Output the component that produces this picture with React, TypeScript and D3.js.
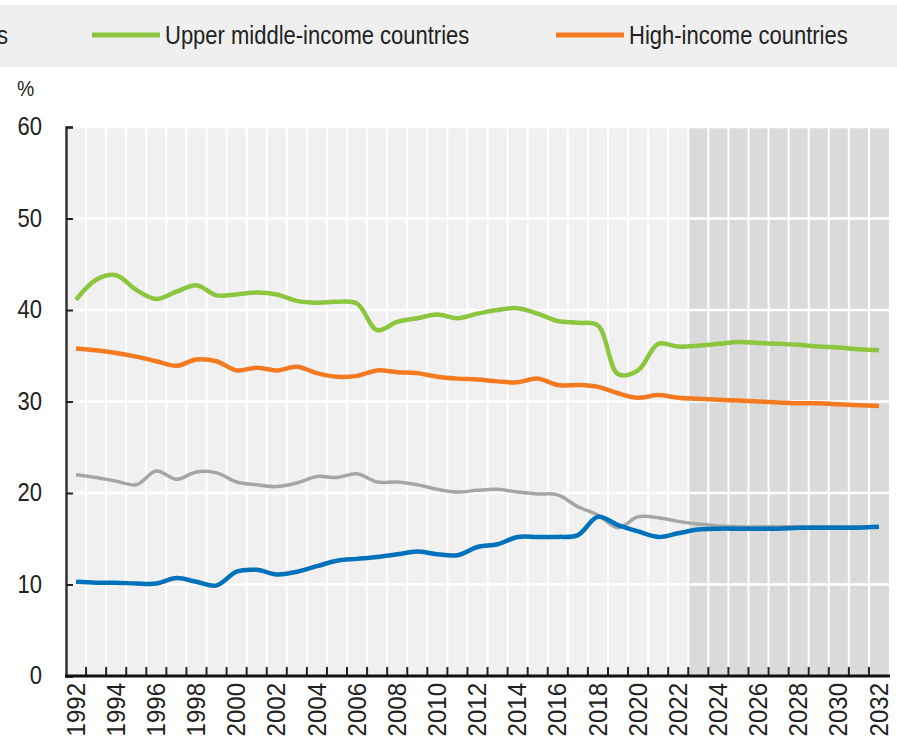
import React, { useEffect, useRef } from 'react';
import * as d3 from 'd3';

// years shown on the x axis (1992-2032), projection starts 2023
const years = d3.range(1992, 2033);
const projectionStart = 2023;
const yTicks = [0, 10, 20, 30, 40, 50, 60];

const upperMiddle = [
  41.1, 43.3, 43.8, 42.2, 41.2, 42.0, 42.7, 41.6, 41.7, 41.9,
  41.7, 41.0, 40.8, 40.9, 40.7, 37.8, 38.7, 39.1, 39.5, 39.1,
  39.6, 40.0, 40.2, 39.6, 38.8, 38.6, 38.3, 33.0, 33.4, 36.3,
  36.0, 36.1, 36.3, 36.5, 36.4, 36.3, 36.2, 36.0, 35.9, 35.7, 35.6,
];
const highIncome = [
  35.8, 35.6, 35.3, 34.9, 34.4, 33.9, 34.6, 34.4, 33.4, 33.7,
  33.4, 33.8, 33.1, 32.7, 32.8, 33.4, 33.2, 33.1, 32.7, 32.5,
  32.4, 32.2, 32.1, 32.5, 31.8, 31.8, 31.6, 30.9, 30.4, 30.7,
  30.4, 30.3, 30.2, 30.1, 30.0, 29.9, 29.8, 29.8, 29.7, 29.6, 29.5,
];
const lowerMiddle = [
  22.0, 21.7, 21.3, 20.9, 22.4, 21.5, 22.3, 22.2, 21.2, 20.9,
  20.7, 21.1, 21.8, 21.7, 22.1, 21.2, 21.2, 20.9, 20.4, 20.1,
  20.3, 20.4, 20.1, 19.9, 19.8, 18.5, 17.6, 16.2, 17.4, 17.3,
  16.9, 16.6, 16.4, 16.3, 16.3, 16.3, 16.3, 16.3, 16.3, 16.3, 16.3,
];
const lowIncome = [
  10.3, 10.2, 10.2, 10.1, 10.1, 10.7, 10.3, 9.9, 11.4, 11.6,
  11.1, 11.4, 12.0, 12.6, 12.8, 13.0, 13.3, 13.6, 13.3, 13.2,
  14.1, 14.4, 15.2, 15.2, 15.2, 15.4, 17.4, 16.5, 15.8, 15.2,
  15.6, 16.0, 16.1, 16.1, 16.1, 16.1, 16.2, 16.2, 16.2, 16.2, 16.3,
];

const series = [
  { name: 'Lower middle-income countries', values: lowerMiddle, color: '#a5a5a5', width: 3.5 },
  { name: 'Low-income countries', values: lowIncome, color: '#0072bc', width: 4.5 },
  { name: 'High-income countries', values: highIncome, color: '#f47a20', width: 4.5 },
  { name: 'Upper middle-income countries', values: upperMiddle, color: '#8cc63f', width: 4.5 },
];

const FONT = "'Liberation Sans', Arial, sans-serif";
const NARROW = 0.88; // original uses a narrow face, squeeze horizontally

const App = () => {
  const svgRef = useRef<SVGSVGElement>(null);

  useEffect(() => {
    const width = 897;
    const height = 737;
    const margin = { top: 127, right: 8, bottom: 61, left: 66 };

    const svg = d3.select(svgRef.current)
      .attr('width', width)
      .attr('height', height)
      .style('font-family', FONT);
    svg.selectAll('*').remove();

    const x = d3.scaleBand<number>()
      .domain(years)
      .range([margin.left, width - margin.right]);

    const y = d3.scaleLinear()
      .domain([0, 60])
      .range([height - margin.bottom, margin.top]);

    const cx = (yr: number) => (x(yr) as number) + x.bandwidth() / 2;

    // legend band
    svg.append('rect')
      .attr('x', 0).attr('y', 5)
      .attr('width', width).attr('height', 62)
      .attr('fill', '#efefef');

    const legendItems = [
      { name: 'Lower middle-income countries', color: '#a5a5a5', x0: -300, textEnd: 8 },
      { name: 'Upper middle-income countries', color: '#8cc63f', x0: 92, textEnd: null },
      { name: 'High-income countries', color: '#f47a20', x0: 556, textEnd: null },
    ];
    legendItems.forEach(item => {
      if (item.textEnd !== null) {
        svg.append('text')
          .attr('transform', `translate(${item.textEnd},36) scale(${NARROW},1)`)
          .attr('text-anchor', 'end')
          .attr('dominant-baseline', 'central')
          .attr('font-size', 25)
          .attr('fill', '#222')
          .text(item.name);
        return;
      }
      svg.append('line')
        .attr('x1', item.x0).attr('x2', item.x0 + 68)
        .attr('y1', 35).attr('y2', 35)
        .attr('stroke', item.color)
        .attr('stroke-width', 5);
      svg.append('text')
        .attr('transform', `translate(${item.x0 + 73},36) scale(${NARROW},1)`)
        .attr('dominant-baseline', 'central')
        .attr('font-size', 25)
        .attr('fill', '#222')
        .text(item.name);
    });

    // unit label
    svg.append('text')
      .attr('transform', `translate(17,96) scale(${NARROW},1)`)
      .attr('font-size', 22)
      .attr('fill', '#222')
      .text('%');

    // plot background, historical and projection
    const top = y(60);
    const bottom = y(0);
    svg.append('rect')
      .attr('x', margin.left).attr('y', top)
      .attr('width', width - margin.right - margin.left)
      .attr('height', bottom - top)
      .attr('fill', '#f0f0f0');
    svg.append('rect')
      .attr('x', x(projectionStart) as number).attr('y', top)
      .attr('width', width - margin.right - (x(projectionStart) as number))
      .attr('height', bottom - top)
      .attr('fill', '#dadada');

    // white grid: vertical at band edges, horizontal at y ticks
    svg.append('g')
      .selectAll('line')
      .data(years.slice(1))
      .join('line')
      .attr('x1', d => x(d) as number).attr('x2', d => x(d) as number)
      .attr('y1', top).attr('y2', bottom)
      .attr('stroke', '#fff')
      .attr('stroke-width', 2);
    svg.append('g')
      .selectAll('line')
      .data(yTicks.slice(1))
      .join('line')
      .attr('x1', margin.left).attr('x2', width - margin.right)
      .attr('y1', d => y(d)).attr('y2', d => y(d))
      .attr('stroke', '#fff')
      .attr('stroke-width', 2.5);

    // lines
    const line = d3.line<number>()
      .x((_, i) => cx(years[i]))
      .y(d => y(d))
      .curve(d3.curveCatmullRom.alpha(0.5));

    svg.append('g')
      .selectAll('path')
      .data(series)
      .join('path')
      .attr('d', d => line(d.values))
      .attr('fill', 'none')
      .attr('stroke', d => d.color)
      .attr('stroke-width', d => d.width)
      .attr('stroke-linejoin', 'round')
      .attr('stroke-linecap', 'butt');

    // y axis
    const yAxis = svg.append('g')
      .attr('transform', `translate(${margin.left},0)`)
      .call(d3.axisRight(y).tickValues(yTicks).tickSize(7).tickFormat(() => ''));
    yAxis.select('.domain').attr('stroke', '#333').attr('stroke-width', 2.5);
    yAxis.selectAll('.tick line').attr('stroke', '#222').attr('stroke-width', 2);

    svg.append('g')
      .selectAll('text')
      .data(yTicks)
      .join('text')
      .attr('transform', d => `translate(42,${y(d)}) scale(${NARROW},1)`)
      .attr('text-anchor', 'end')
      .attr('dominant-baseline', 'central')
      .attr('font-size', 25)
      .attr('fill', '#222')
      .text(d => d);

    // x axis with ticks at band boundaries
    svg.append('g')
      .selectAll('line')
      .data(years.slice(1))
      .join('line')
      .attr('x1', d => x(d) as number).attr('x2', d => x(d) as number)
      .attr('y1', bottom - 9).attr('y2', bottom)
      .attr('stroke', '#222')
      .attr('stroke-width', 2);
    svg.append('line')
      .attr('x1', margin.left - 1).attr('x2', width - margin.right + 1)
      .attr('y1', bottom).attr('y2', bottom)
      .attr('stroke', '#111')
      .attr('stroke-width', 3);

    svg.append('g')
      .selectAll('text')
      .data(years.filter(d => d % 2 === 0))
      .join('text')
      .attr('transform', d => `translate(${cx(d)},${bottom + 7}) rotate(-90) scale(0.96,1)`)
      .attr('text-anchor', 'end')
      .attr('dominant-baseline', 'central')
      .attr('font-size', 25)
      .attr('fill', '#222')
      .text(d => d);
  }, []);

  return (
    <svg ref={svgRef} style={{ position: 'absolute', left: 0, top: 0 }}></svg>
  );
};

export default App;
